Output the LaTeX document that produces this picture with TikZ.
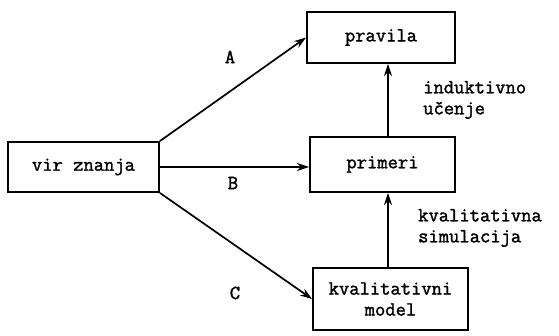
\documentclass[tikz,border=0pt]{standalone}
\usepackage{fontspec}
\newfontfamily\twfont[FakeBold=1.6]{Latin Modern Mono}
\usetikzlibrary{arrows.meta,calc}
\begin{document}
\begin{tikzpicture}[x=1pt,y=-1pt,
  txt/.style={font=\twfont\fontsize{20}{21}\selectfont, inner sep=0pt},
  box/.style={draw, line width=1.9pt, txt, align=center},
  link/.style={line width=1.7pt, -{Stealth[length=12pt,width=8pt]}},
  lbl/.style={txt, align=left, anchor=west}]
  \useasboundingbox (0,0) rectangle (559,336);

  % boxes
  \node[box, minimum width=151pt, minimum height=50pt] (vir) at (83.5,167) {vir znanja};
  \node[box, minimum width=148pt, minimum height=51pt] (pravila) at (381,37.5) {pravila};
  \node[box, minimum width=145pt, minimum height=55pt] (primeri) at (382.5,164.5) {primeri};
  \node[box, minimum width=155pt, minimum height=62pt] (model) at (390.5,299) {kvalitativni\\model};

  % connectors from the knowledge source
  \draw[link] (vir.north east) -- (pravila.west);
  \draw[link] (vir.east) -- (vir.east -| primeri.west);
  \draw[link] (vir.south east) -- (model.west);

  % vertical connectors
  \coordinate (x0) at (388,0);
  \draw[link] (model.north -| x0) -- (primeri.south -| x0);
  \draw[link] (primeri.north -| x0) -- (pravila.south -| x0);

  % labels
  \node[txt] (la) at (230,57) {A};
  \node[txt] (lb) at (233,183) {B};
  \node[txt] (lc) at (235,293) {C};
  \node[lbl] (ind) at (423,100) {induktivno\\učenje};
  \node[lbl] (sim) at (418,228) {kvalitativna\\simulacija};
\end{tikzpicture}
\end{document}
